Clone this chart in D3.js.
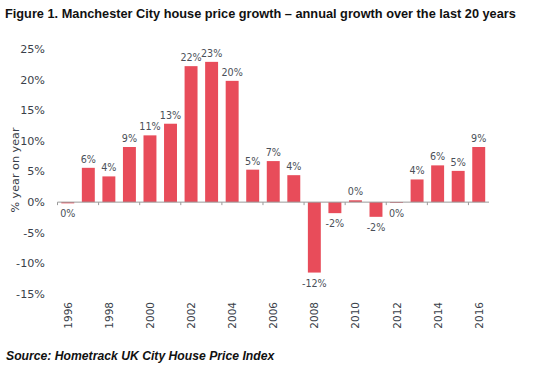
<!DOCTYPE html>
<html>
<head>
<meta charset="utf-8">
<script src="https://cdn.jsdelivr.net/npm/d3@7"></script>
<style>
  html, body { margin: 0; padding: 0; background: #fff; }
  svg { display: block; }
</style>
</head>
<body>
<svg id="chart" width="543" height="379"></svg>
<script>
const years = ["1996","1997","1998","1999","2000","2001","2002","2003","2004","2005","2006","2007","2008","2009","2010","2011","2012","2013","2014","2015","2016"];
const growth = [-0.2, 5.6, 4.2, 9.0, 10.9, 12.8, 22.2, 22.9, 19.8, 5.3, 6.7, 4.4, -11.5, -1.8, 0.3, -2.4, -0.1, 3.7, 6.0, 5.1, 9.0];
const barLabels = ["0%","6%","4%","9%","11%","13%","22%","23%","20%","5%","7%","4%","-12%","-2%","0%","-2%","0%","4%","6%","5%","9%"];
const yTicks = [-15, -10, -5, 0, 5, 10, 15, 20, 25];
const yearTicks = ["1996","1998","2000","2002","2004","2006","2008","2010","2012","2014","2016"];

const titleText = "Figure 1. Manchester City house price growth \u2013 annual growth over the last 20 years";
const sourceText = "Source: Hometrack UK City House Price Index";

const svg = d3.select("#chart");
const x = d3.scaleBand().domain(years).range([57.5, 489]).padding(0);
const y = d3.scaleLinear().domain([-15, 25]).range([294, 49]);
const step = x.step();
const barW = step * 0.63;

// title
svg.append("text").attr("x", 5).attr("y", 18)
  .attr("font-family", "Liberation Sans, Arial, sans-serif")
  .attr("font-weight", "bold").attr("font-size", 12.75)
  .attr("fill", "#111").text(titleText);

// y tick labels
svg.append("g").selectAll("text").data(yTicks).join("text")
  .attr("x", 45).attr("y", d => y(d)).attr("dy", "0.35em")
  .attr("text-anchor", "end")
  .attr("font-family", "DejaVu Sans, Verdana, sans-serif")
  .attr("font-size", 11.2).attr("fill", "#3a3f4a")
  .text(d => d + "%");

// y axis title
svg.append("text")
  .attr("transform", `translate(19,${170}) rotate(-90)`)
  .attr("text-anchor", "middle")
  .attr("font-family", "DejaVu Sans, Verdana, sans-serif")
  .attr("font-size", 11.2).attr("fill", "#3a3f4a")
  .text("% year on year");

// bars
svg.append("g").selectAll("rect").data(years).join("rect")
  .attr("x", d => x(d) + (step - barW) / 2)
  .attr("width", barW)
  .attr("y", (d, i) => y(Math.max(0, growth[i])))
  .attr("height", (d, i) => Math.max(0.8, Math.abs(y(growth[i]) - y(0))))
  .attr("fill", "#e84c5a");

// axis line at zero
const xAxis = d3.axisBottom(x).tickValues(yearTicks).tickSize(3).tickFormat("");
const gx = svg.append("g").attr("transform", `translate(0,${y(0)})`).call(xAxis);
gx.select(".domain").attr("stroke", "#9a9a9a").attr("d", `M${x.range()[0]},0H${x.range()[1]}`);
gx.selectAll(".tick").attr("transform", d => `translate(${x(d)},0)`);
gx.selectAll(".tick line").attr("stroke", "#9a9a9a");

// year labels
svg.append("g").selectAll("text").data(yearTicks).join("text")
  .attr("transform", d => `translate(${x(d) + step / 2 + 4},${302}) rotate(-90)`)
  .attr("text-anchor", "end")
  .attr("font-family", "DejaVu Sans, Verdana, sans-serif")
  .attr("font-size", 10.5).attr("fill", "#3a3f4a")
  .text(d => d);

// bar value labels
svg.append("g").selectAll("text").data(years).join("text")
  .attr("x", d => x(d) + step / 2)
  .attr("y", (d, i) => growth[i] >= 0 ? y(growth[i]) - 5 : y(growth[i]) + 14)
  .attr("text-anchor", "middle")
  .attr("font-family", "DejaVu Sans, Verdana, sans-serif")
  .attr("font-size", 9.6).attr("fill", "#4a4f58")
  .text((d, i) => barLabels[i]);

// source
svg.append("text").attr("x", 6).attr("y", 360)
  .attr("font-family", "Liberation Sans, Arial, sans-serif")
  .attr("font-weight", "bold").attr("font-style", "italic").attr("font-size", 12.2)
  .attr("fill", "#111").text(sourceText);
</script>
</body>
</html>
